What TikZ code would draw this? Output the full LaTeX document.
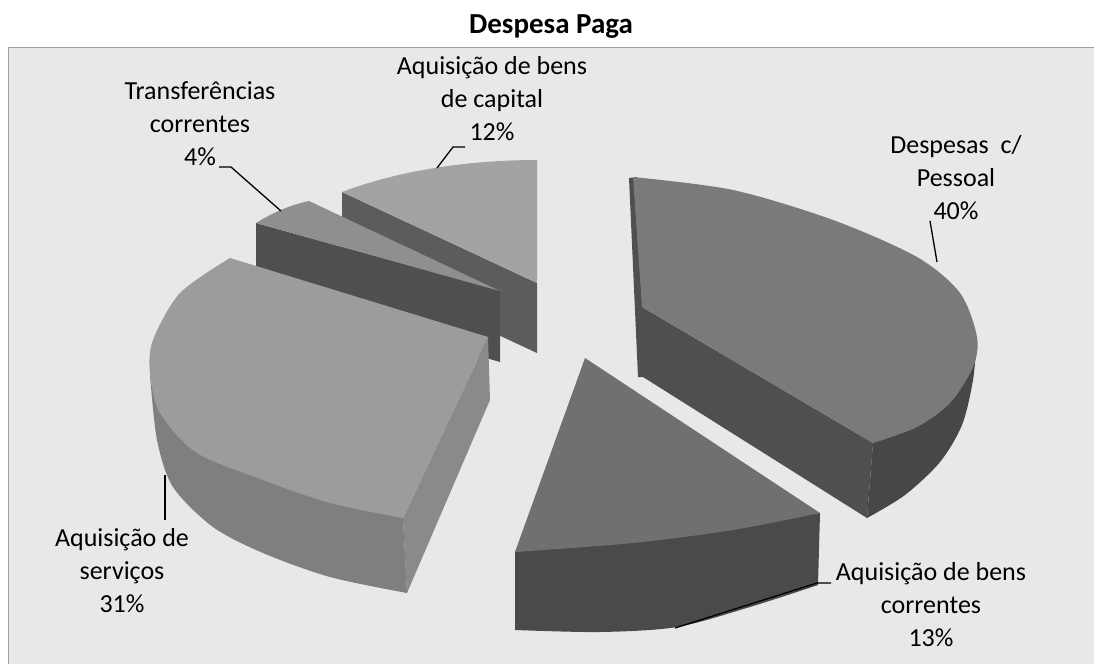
\documentclass[tikz,border=0pt]{standalone}
\usepackage{fontspec}
\setmainfont{Carlito}
\usetikzlibrary{positioning}

\definecolor{plotbg}{gray}{0.91}
\definecolor{pessoalTop}{gray}{0.48}
\definecolor{pessoalSide}{gray}{0.31}
\definecolor{correntesTop}{gray}{0.44}
\definecolor{correntesSide}{gray}{0.29}
\definecolor{servicosTop}{gray}{0.61}
\definecolor{servicosSide}{gray}{0.54}
\definecolor{transfTop}{gray}{0.56}
\definecolor{transfSide}{gray}{0.31}
\definecolor{capitalTop}{gray}{0.64}
\definecolor{capitalSide}{gray}{0.36}

\begin{document}
\begin{tikzpicture}[x=1pt, y=-1pt,
  lbl/.style={align=center, font=\fontsize{26}{33}\selectfont},
  leader/.style={draw=black, line width=1.3pt}]
\useasboundingbox (0,0) rectangle (1094,664);
\fill[plotbg] (8,47) rectangle (1094,664);
\draw[gray!75, line width=1pt] (8,664) -- (8,47) -- (1094,47);
\node[name=title, anchor=base, font=\fontsize{29}{34}\selectfont\bfseries] at (551,33) {Despesa Paga};

% bens de capital
\fill[capitalSide] (342,192) -- (537,283) -- (537,353) -- (342,262) -- cycle;
\fill[capitalTop] (537,283) -- (342,192) .. controls (400,170) and (470,160) .. (537,160) -- cycle;
% transferencias
\fill[transfSide] (256,223) -- (500,291) -- (500,362) -- (256,293) -- cycle;
\fill[transfTop] (256,223) .. controls (272,213) and (290,205) .. (309,201) -- (500,291) -- cycle;
% servicos
\fill[servicosSide] (488,337) -- (490,400) -- (407,593) -- (403,518) -- cycle;
\fill[servicosSide!92!black] plot[smooth] coordinates {(407,593) (330,577) (263,553) (213,527) (173,487) (157,440) (150,375)} -- (403,518) -- cycle;
\fill[servicosTop] (488,337) -- plot[smooth] coordinates {(230,258) (180,293) (153,340) (150,373) (160,413) (197,453) (263,480) (330,503) (403,518)} -- cycle;
% bens correntes
\fill[correntesSide] (515,552) -- plot[smooth] coordinates {(515,630) (600,632) (677,627) (750,607) (818,585)} -- (820,513) -- cycle;
\fill[correntesTop] (585,358) -- plot[smooth] coordinates {(820,513) (733,530) (633,543) (515,552)} -- cycle;
% pessoal
\fill[pessoalSide] (629,178) -- (637,177) -- (646,377) -- (638,377) -- cycle;
\fill[pessoalSide] (642,307) -- (873,443) -- (867,518) -- (643,377) -- cycle;
\fill[pessoalSide!90!black] plot[smooth] coordinates {(977,337) (973,380) (962,425) (940,462) (905,495) (867,518)} -- (873,443) -- cycle;
\fill[pessoalTop] (642,307) -- plot[smooth] coordinates {(633,177) (733,190) (833,220) (917,257) (960,293) (977,337) (973,367) (950,403) (917,427) (873,443)} -- cycle;

\node[lbl, name=pessoal] at (956,178) {Despesas\ \ c/\\Pessoal\\40\%};
\node[lbl, name=capital] at (492,99) {Aquisição de bens\\de capital\\12\%};
\node[lbl, name=transf] at (200,124) {Transferências\\correntes\\4\%};
\node[lbl, name=servicos] at (122,571) {Aquisição de\\serviços\\31\%};
\node[lbl, name=correntes] at (931,605) {Aquisição de bens\\correntes\\13\%};

\coordinate (pessoal-a) at (930,221);
\coordinate (pessoal-b) at (937,262);
\coordinate (capital-a) at (465,147);
\coordinate (capital-m) at (453,147);
\coordinate (capital-b) at (437,168);
\coordinate (transf-a) at (219,167);
\coordinate (transf-m) at (231,167);
\coordinate (transf-b) at (281,211);
\coordinate (servicos-a) at (165,520);
\coordinate (servicos-b) at (165,475);
\coordinate (correntes-a) at (831,583);
\coordinate (correntes-m) at (817,583);
\coordinate (correntes-b) at (675,628);
\draw[leader] (pessoal-a) -- (pessoal-b);
\draw[leader] (capital-a) -- (capital-m) -- (capital-b);
\draw[leader] (transf-a) -- (transf-m) -- (transf-b);
\draw[leader] (servicos-a) -- (servicos-b);
\draw[leader] (correntes-a) -- (correntes-m) -- (correntes-b);
\end{tikzpicture}
\end{document}
